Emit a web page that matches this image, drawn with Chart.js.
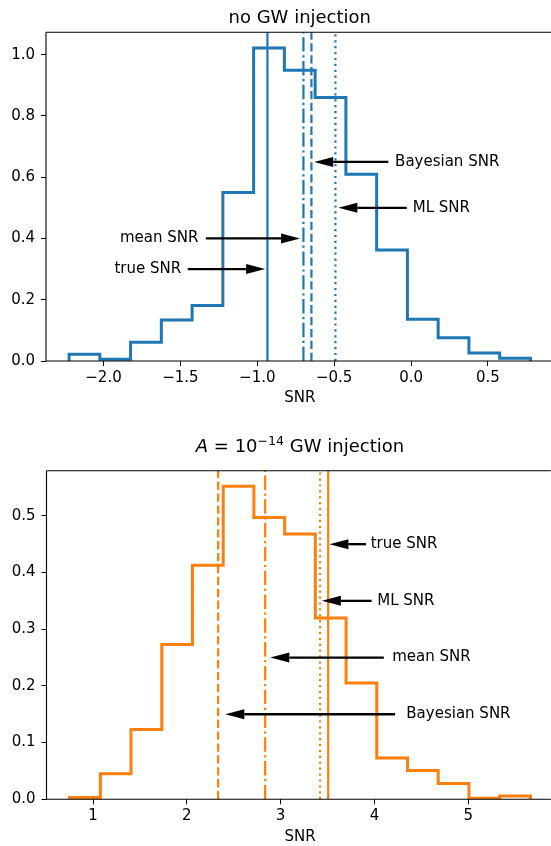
<!DOCTYPE html>
<html>
<head>
<meta charset="utf-8">
<script src="https://cdn.jsdelivr.net/npm/chart.js@4.4.0/dist/chart.umd.min.js"></script>
<style>
  html, body { margin: 0; padding: 0; background: #fff; }
  #wrap { position: relative; width: 551px; height: 846px; overflow: hidden; }
  #wrap canvas { position: absolute; left: 0; }
  #top-chart { top: 0; }
  #bottom-chart { top: 423px; }
</style>
</head>
<body>
<div id="wrap">
  <canvas id="top-chart" width="560" height="423"></canvas>
  <canvas id="bottom-chart" width="560" height="423"></canvas>
</div>
<script>
// --- no GW injection ---
const topEdges = [-2.224, -2.024, -1.824, -1.624, -1.424, -1.224, -1.024, -0.824,
  -0.624, -0.424, -0.224, -0.024, 0.176, 0.376, 0.576, 0.776];
const topDensity = [0.022, 0.006, 0.061, 0.134, 0.181, 0.550, 1.022, 0.949,
  0.860, 0.610, 0.362, 0.136, 0.076, 0.026, 0.009];
const topTicksX = [-2.0, -1.5, -1.0, -0.5, 0.0, 0.5];
const topTicksY = [0.0, 0.2, 0.4, 0.6, 0.8, 1.0];
const topLabels = ['true SNR', 'mean SNR', 'Bayesian SNR', 'ML SNR'];
const topLineX = [-0.934, -0.700, -0.648, -0.492];
const topTipX = [-0.949, -0.722, -0.630, -0.473];
const topTailX = [-1.452, -1.335, -0.148, -0.028];
const topArrowY = [0.30, 0.40, 0.65, 0.50];
const topTextX = [-1.495, -1.383, -0.104, 0.011];

// --- A = 10^-14 GW injection ---
const bottomEdges = [0.750, 1.078, 1.405, 1.733, 2.060, 2.388, 2.715, 3.043,
  3.370, 3.698, 4.025, 4.353, 4.680, 5.008, 5.335, 5.663];
const bottomDensity = [0.003, 0.045, 0.123, 0.273, 0.413, 0.552, 0.497, 0.468,
  0.320, 0.205, 0.073, 0.051, 0.028, 0.002, 0.006];
const bottomTicksX = [1, 2, 3, 4, 5];
const bottomTicksY = [0.0, 0.1, 0.2, 0.3, 0.4, 0.5];
const bottomLabels = ['true SNR', 'ML SNR', 'mean SNR', 'Bayesian SNR'];
const bottomLineX = [3.507, 3.420, 2.835, 2.334];
const bottomTipX = [3.52, 3.44, 2.89, 2.41];
const bottomTailX = [3.91, 3.97, 4.10, 4.22];
const bottomArrowY = [0.45, 0.35, 0.25, 0.15];
const bottomTextX = [3.96, 4.03, 4.19, 4.34];

Chart.defaults.font.family = '"DejaVu Sans", sans-serif';
Chart.defaults.color = '#000';

// 線種 (matplotlib の '-', '-.', '--', ':')
const dashFor = {
  'true SNR': [],
  'mean SNR': [14.4, 3.6, 2.2, 3.6],
  'Bayesian SNR': [8.3, 3.6],
  'ML SNR': [2.2, 3.7],
};

// ヒストグラム (histtype='step') の折れ線
function stepPoints(edges, heights) {
  const pts = [{ x: edges[0], y: 0 }];
  heights.forEach((h, i) => {
    pts.push({ x: edges[i], y: h });
    pts.push({ x: edges[i + 1], y: h });
  });
  pts.push({ x: edges[edges.length - 1], y: 0 });
  return pts;
}

const fmtMinus = (v, digits) => (v < 0 ? '\u2212' : '') + Math.abs(v).toFixed(digits);

function hline(ctx, x1, x2, y) {
  ctx.beginPath();
  ctx.moveTo(x1, y);
  ctx.lineTo(x2, y);
  ctx.stroke();
}

// 枠線と矢印、タイトル
const decorPlugin = {
  id: 'decor',
  afterDatasetsDraw(chart, args, o) {
    const { ctx, chartArea: a, scales: { x, y } } = chart;
    ctx.save();
    ctx.setLineDash([]);
    ctx.strokeStyle = '#000';
    ctx.lineWidth = 1.1;
    hline(ctx, a.left, a.right, a.top);
    hline(ctx, a.left, a.right, a.bottom);
    ctx.beginPath();
    ctx.moveTo(a.left, a.top);
    ctx.lineTo(a.left, a.bottom);
    ctx.stroke();

    o.labels.forEach((label, i) => {
      const tip = x.getPixelForValue(o.tipX[i]);
      const tail = x.getPixelForValue(o.tailX[i]);
      const py = y.getPixelForValue(o.arrowY[i]);
      const dir = Math.sign(tip - tail);
      const headLen = 19, headW = 5;
      ctx.fillStyle = '#000';
      ctx.lineWidth = 2.3;
      hline(ctx, tail, tip - dir * headLen, py);
      ctx.beginPath();
      ctx.moveTo(tip, py);
      ctx.lineTo(tip - dir * headLen, py - headW);
      ctx.lineTo(tip - dir * headLen, py + headW);
      ctx.closePath();
      ctx.fill();

      const tx = x.getPixelForValue(o.textX[i]);
      ctx.font = '15px "DejaVu Sans"';
      ctx.textAlign = tx < tail ? 'right' : 'left';
      ctx.textBaseline = 'middle';
      ctx.fillText(label, tx, py);
    });

    // タイトル (上付き文字を含むので手で並べる)
    const widths = o.title.map(p => { ctx.font = p.font; return ctx.measureText(p.text).width; });
    const total = widths.reduce((s, w) => s + w, 0);
    let cx = (a.left + a.right) / 2 - total / 2;
    ctx.textAlign = 'left';
    ctx.textBaseline = 'alphabetic';
    o.title.forEach((p, i) => {
      ctx.font = p.font;
      ctx.fillText(p.text, cx, o.titleBaseline + (p.dy || 0));
      cx += widths[i];
    });
    ctx.restore();
  },
  // 右端は元画像では切れているので、見える範囲の端に出る縦線を消す
  afterDraw(chart) {
    const { ctx, chartArea: a } = chart;
    ctx.save();
    ctx.fillStyle = '#fff';
    ctx.fillRect(547.5, a.top + 1, 5, a.bottom - a.top - 2);
    ctx.restore();
  },
};

function makeChart(id, cfg) {
  const lineSets = cfg.labels.map((label, i) => ({
    data: [{ x: cfg.lineX[i], y: 0 }, { x: cfg.lineX[i], y: cfg.yMax }],
    borderColor: cfg.color,
    borderWidth: 2.2,
    borderDash: dashFor[label],
    pointRadius: 0,
  }));
  const hist = {
    data: stepPoints(cfg.edges, cfg.density),
    borderColor: cfg.color,
    borderWidth: 3,
    pointRadius: 0,
    tension: 0,
  };

  const tickFont = { size: 15 };
  new Chart(document.getElementById(id).getContext('2d'), {
    type: 'line',
    data: { datasets: [...lineSets, hist] },
    options: {
      responsive: false,
      animation: false,
      devicePixelRatio: 1,
      // 右の枠は画像の外に出る
      layout: { padding: { top: cfg.padTop, right: 6.5, left: 0, bottom: 0 } },
      plugins: {
        legend: { display: false },
        tooltip: { enabled: false },
        decor: {
          labels: cfg.labels,
          tipX: cfg.tipX,
          tailX: cfg.tailX,
          arrowY: cfg.arrowY,
          textX: cfg.textX,
          title: cfg.title,
          titleBaseline: cfg.titleBaseline,
        },
      },
      scales: {
        x: {
          type: 'linear',
          min: cfg.xMin,
          max: cfg.xMax,
          afterBuildTicks: s => { s.ticks = cfg.ticksX.map(v => ({ value: v })); },
          afterFit: s => { s.height = cfg.xAxisHeight; },
          ticks: { font: tickFont, padding: 3, maxRotation: 0, callback: cfg.fmtX },
          grid: { drawOnChartArea: false, tickLength: 5, color: '#000' },
          border: { display: false },
          title: { display: true, text: 'SNR', font: { size: 15 }, padding: { top: 0, bottom: cfg.xTitlePad } },
        },
        y: {
          type: 'linear',
          min: 0,
          max: cfg.yMax,
          afterBuildTicks: s => { s.ticks = cfg.ticksY.map(v => ({ value: v })); },
          afterFit: s => { s.width = cfg.yAxisWidth; },
          ticks: { font: tickFont, padding: 6, callback: v => v.toFixed(1) },
          grid: { drawOnChartArea: false, tickLength: 5, color: '#000' },
          border: { display: false },
        },
      },
    },
    plugins: [decorPlugin],
  });
}

makeChart('top-chart', {
  color: '#1f77b4',
  edges: topEdges, density: topDensity,
  labels: topLabels, lineX: topLineX,
  tipX: topTipX, tailX: topTailX, arrowY: topArrowY, textX: topTextX,
  ticksX: topTicksX, ticksY: topTicksY,
  fmtX: v => fmtMinus(v, 1),
  xMin: -2.374, xMax: 0.926, yMax: 1.073,
  padTop: 32.3, xAxisHeight: 62, yAxisWidth: 46, xTitlePad: 16,
  title: [{ text: 'no GW injection', font: '18px "DejaVu Sans"' }],
  titleBaseline: 22.7,
});

makeChart('bottom-chart', {
  color: '#ff7f0e',
  edges: bottomEdges, density: bottomDensity,
  labels: bottomLabels, lineX: bottomLineX,
  tipX: bottomTipX, tailX: bottomTailX, arrowY: bottomArrowY, textX: bottomTextX,
  ticksX: bottomTicksX, ticksY: bottomTicksY,
  fmtX: v => String(v),
  xMin: 0.504, xMax: 5.909, yMax: 0.5796,
  padTop: 47.7, xAxisHeight: 46.7, yAxisWidth: 46.5, xTitlePad: 0,
  title: [
    { text: 'A', font: 'italic 18px "DejaVu Sans"' },
    { text: ' = 10', font: '18px "DejaVu Sans"' },
    { text: '\u221214', font: '12.6px "DejaVu Sans"', dy: -7.5 },
    { text: ' GW injection', font: '18px "DejaVu Sans"' },
  ],
  titleBaseline: 29.3,
});
</script>
</body>
</html>
